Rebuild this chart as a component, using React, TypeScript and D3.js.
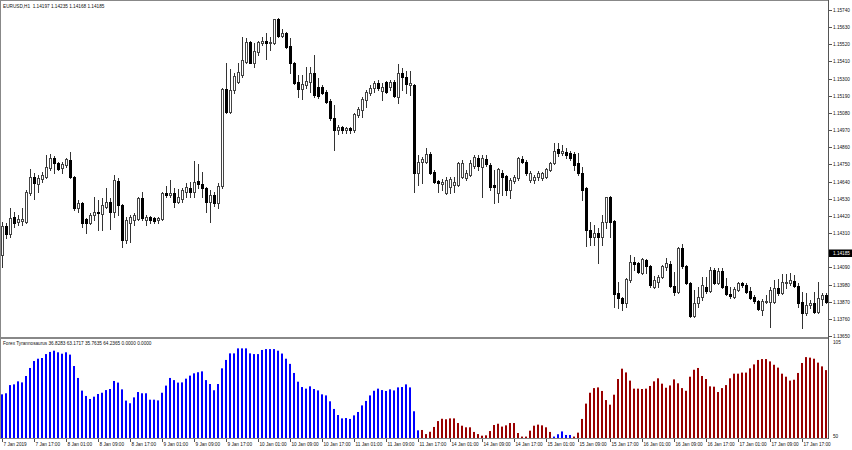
import React from 'react';
import * as d3 from 'd3';

const opens = [
1.14169,1.14355,1.14304,1.14413,1.14381,1.14387,1.14381,1.14567,1.14669,1.14625,
1.14657,1.14669,1.14727,1.14791,1.14759,1.14727,1.14746,1.14778,1.14669,1.14471,
1.14503,1.14400,1.14375,1.14426,1.14445,1.14432,1.14477,1.14509,1.14445,1.14644,
1.14490,1.14266,1.14375,1.14394,1.14400,1.14535,1.14394,1.14413,1.14407,1.14394,
1.14400,1.14567,1.14554,1.14567,1.14509,1.14528,1.14573,1.14599,1.14573,1.14644,
1.14625,1.14599,1.14509,1.14554,1.14503,1.14612,1.15234,1.15086,1.15227,1.15278,
1.15323,1.15407,1.15535,1.15400,1.15471,1.15528,1.15541,1.15528,1.15528,1.15682,
1.15573,1.15592,1.15509,1.15400,1.15278,1.15234,1.15259,1.15278,1.15336,1.15246,
1.15246,1.15214,1.15157,1.15048,1.14971,1.14990,1.14971,1.14984,1.14971,1.15067,
1.15099,1.15163,1.15208,1.15240,1.15272,1.15221,1.15278,1.15246,1.15278,1.15182,
1.15336,1.15310,1.15259,1.15259,1.14695,1.14766,1.14766,1.14817,1.14701,1.14644,
1.14625,1.14567,1.14605,1.14618,1.14618,1.14669,1.14663,1.14682,1.14740,1.14791,
1.14734,1.14785,1.14746,1.14618,1.14567,1.14695,1.14676,1.14586,1.14644,1.14663,
1.14785,1.14766,1.14650,1.14650,1.14669,1.14663,1.14669,1.14714,1.14759,1.14849,
1.14823,1.14830,1.14823,1.14817,1.14759,1.14695,1.14599,1.14330,1.14285,1.14310,
1.14285,1.14381,1.14541,1.14387,1.13926,1.13894,1.13862,1.14009,1.14125,1.14118,
1.14054,1.14137,1.14099,1.13964,1.13996,1.14028,1.14093,1.14112,1.13971,1.13932,
1.14214,1.14099,1.13990,1.13778,1.13862,1.13900,1.13964,1.13939,1.14073,1.13990,
1.14067,1.13971,1.13919,1.13900,1.13945,1.13990,1.13977,1.13939,1.13900,1.13875,
1.13817,1.13868,1.13868,1.13868,1.13958,1.13926,1.13990,1.13990,1.14003,1.13971,
1.13868,1.13798,1.13849,1.13862,1.13804,1.13887,1.13913
];
const highs = [
1.14381,1.14375,1.14471,1.14445,1.14426,1.14471,1.14586,1.14721,1.14695,1.14682,
1.14701,1.14810,1.14817,1.14804,1.14766,1.14766,1.14791,1.14830,1.14675,1.14522,
1.14510,1.14406,1.14439,1.14541,1.14522,1.14535,1.14599,1.14535,1.14682,1.14663,
1.14496,1.14413,1.14426,1.14439,1.14541,1.14573,1.14426,1.14420,1.14413,1.14413,
1.14573,1.14612,1.14650,1.14599,1.14593,1.14599,1.14631,1.14637,1.14772,1.14753,
1.14701,1.14605,1.14586,1.14573,1.14631,1.15240,1.15400,1.15362,1.15336,1.15400,
1.15567,1.15560,1.15541,1.15528,1.15541,1.15567,1.15592,1.15567,1.15682,1.15689,
1.15618,1.15599,1.15560,1.15407,1.15323,1.15323,1.15375,1.15375,1.15451,1.15304,
1.15259,1.15227,1.15169,1.15131,1.15003,1.14996,1.14990,1.14990,1.15080,1.15118,
1.15182,1.15227,1.15259,1.15285,1.15291,1.15272,1.15285,1.15291,1.15291,1.15394,
1.15368,1.15349,1.15349,1.15266,1.14810,1.14798,1.14855,1.14830,1.14714,1.14650,
1.14657,1.14669,1.14669,1.14669,1.14766,1.14778,1.14714,1.14778,1.14810,1.14810,
1.14810,1.14810,1.14759,1.14714,1.14727,1.14714,1.14682,1.14663,1.14682,1.14798,
1.14804,1.14778,1.14708,1.14682,1.14708,1.14701,1.14727,1.14766,1.14887,1.14887,
1.14874,1.14855,1.14836,1.14830,1.14823,1.14734,1.14605,1.14381,1.14362,1.14343,
1.14426,1.14541,1.14548,1.14394,1.13996,1.13900,1.14022,1.14169,1.14157,1.14125,
1.14150,1.14144,1.14105,1.14035,1.14041,1.14105,1.14150,1.14131,1.14060,1.14221,
1.14240,1.14105,1.13996,1.13945,1.13964,1.14028,1.14028,1.14093,1.14086,1.14086,
1.14086,1.14022,1.13964,1.13964,1.13996,1.13996,1.13990,1.13964,1.13913,1.13881,
1.13887,1.13913,1.13964,1.14009,1.14015,1.14048,1.14048,1.14054,1.14041,1.13990,
1.13932,1.13926,1.13881,1.13932,1.13996,1.13926,1.13926
];
const lows = [
1.14093,1.14278,1.14285,1.14349,1.14362,1.14362,1.14375,1.14554,1.14528,1.14573,
1.14637,1.14663,1.14714,1.14695,1.14714,1.14695,1.14734,1.14663,1.14458,1.14445,
1.14349,1.14310,1.14369,1.14394,1.14330,1.14330,1.14471,1.14336,1.14413,1.14426,
1.14221,1.14246,1.14253,1.14362,1.14394,1.14394,1.14362,1.14375,1.14375,1.14375,
1.14394,1.14541,1.14541,1.14477,1.14503,1.14509,1.14541,1.14541,1.14541,1.14599,
1.14541,1.14445,1.14381,1.14484,1.14471,1.14599,1.15080,1.15080,1.15208,1.15272,
1.15310,1.15400,1.15400,1.15375,1.15451,1.15516,1.15426,1.15483,1.15522,1.15567,
1.15567,1.15496,1.15336,1.15266,1.15182,1.15169,1.15240,1.15214,1.15182,1.15176,
1.15202,1.15144,1.15035,1.14843,1.14945,1.14951,1.14951,1.14951,1.14958,1.15054,
1.15054,1.15118,1.15195,1.15214,1.15227,1.15163,1.15208,1.15227,1.15182,1.15144,
1.15227,1.15208,1.15195,1.14573,1.14618,1.14631,1.14759,1.14689,1.14631,1.14573,
1.14586,1.14560,1.14567,1.14573,1.14612,1.14663,1.14650,1.14676,1.14727,1.14714,
1.14541,1.14740,1.14586,1.14503,1.14509,1.14554,1.14554,1.14535,1.14631,1.14650,
1.14759,1.14682,1.14637,1.14631,1.14650,1.14650,1.14663,1.14708,1.14753,1.14804,
1.14810,1.14791,1.14778,1.14714,1.14682,1.14522,1.14227,1.14234,1.14234,1.14118,
1.14234,1.14343,1.14285,1.13836,1.13830,1.13817,1.13836,1.13996,1.14073,1.14054,
1.14048,1.14054,1.13964,1.13958,1.13964,1.14022,1.14073,1.13964,1.13913,1.13926,
1.14086,1.13984,1.13772,1.13772,1.13836,1.13881,1.13926,1.13932,1.13984,1.13984,
1.13958,1.13913,1.13894,1.13894,1.13939,1.13964,1.13926,1.13887,1.13862,1.13817,
1.13785,1.13862,1.13708,1.13862,1.13913,1.13919,1.13958,1.13977,1.13964,1.13836,
1.13701,1.13785,1.13830,1.13798,1.13798,1.13849,1.13862
];
const closes = [
1.14355,1.14304,1.14407,1.14375,1.14400,1.14400,1.14573,1.14669,1.14631,1.14663,
1.14682,1.14734,1.14791,1.14759,1.14721,1.14753,1.14785,1.14669,1.14471,1.14503,
1.14375,1.14375,1.14426,1.14445,1.14439,1.14490,1.14509,1.14445,1.14650,1.14490,
1.14266,1.14394,1.14413,1.14426,1.14535,1.14407,1.14413,1.14394,1.14387,1.14407,
1.14567,1.14554,1.14567,1.14509,1.14541,1.14586,1.14605,1.14573,1.14637,1.14625,
1.14599,1.14509,1.14554,1.14503,1.14612,1.15234,1.15086,1.15227,1.15317,1.15342,
1.15419,1.15535,1.15400,1.15477,1.15535,1.15541,1.15528,1.15535,1.15682,1.15573,
1.15592,1.15503,1.15400,1.15272,1.15234,1.15266,1.15285,1.15336,1.15195,1.15189,
1.15208,1.15150,1.15048,1.14971,1.14990,1.14971,1.14984,1.14971,1.15073,1.15105,
1.15169,1.15214,1.15240,1.15272,1.15240,1.15246,1.15214,1.15278,1.15189,1.15336,
1.15310,1.15266,1.15272,1.14695,1.14766,1.14785,1.14817,1.14695,1.14637,1.14631,
1.14637,1.14650,1.14657,1.14637,1.14759,1.14759,1.14695,1.14759,1.14798,1.14740,
1.14791,1.14753,1.14605,1.14605,1.14721,1.14669,1.14586,1.14650,1.14669,1.14791,
1.14766,1.14695,1.14695,1.14669,1.14695,1.14695,1.14721,1.14759,1.14836,1.14823,
1.14836,1.14810,1.14791,1.14746,1.14695,1.14586,1.14330,1.14285,1.14310,1.14285,
1.14381,1.14541,1.14381,1.13919,1.13894,1.13862,1.14015,1.14125,1.14112,1.14060,
1.14144,1.14099,1.13977,1.14009,1.14028,1.14099,1.14118,1.13971,1.13932,1.14214,
1.14099,1.13990,1.13778,1.13862,1.13900,1.13977,1.13939,1.14073,1.13990,1.14067,
1.13964,1.13919,1.13907,1.13951,1.13990,1.13977,1.13932,1.13894,1.13875,1.13823,
1.13875,1.13875,1.13945,1.13958,1.13926,1.13996,1.13996,1.14009,1.13971,1.13862,
1.13798,1.13849,1.13862,1.13804,1.13894,1.13913,1.13868
];

const strength = [
74.5,75.1,79.7,80.1,81.8,81.2,84.8,89.3,93.2,94.5,
94.9,97.1,98.3,99.0,98.1,97.3,98.1,96.8,90.4,83.7,
76.6,73.6,71.9,73.2,74.7,75.4,76.9,77.5,82.0,81.1,
77.3,71.0,69.5,72.8,75.8,75.1,75.1,71.5,71.5,71.1,
75.4,79.4,83.7,82.5,81.1,81.2,83.3,85.0,86.3,86.9,
87.4,82.5,80.3,76.8,80.3,89.1,93.8,97.5,97.5,100.3,
100.3,100.3,97.5,97.1,97.1,99.4,99.9,99.9,99.9,99.0,
97.4,94.5,91.6,86.5,81.6,78.6,77.7,79.0,77.5,76.7,
74.5,73.9,70.6,66.3,62.9,61.0,61.2,60.7,62.7,64.6,
68.3,70.8,73.9,76.5,77.7,76.9,76.4,77.3,76.7,78.4,
78.6,80.1,78.4,65.0,54.3,54.5,52.2,53.5,56.2,59.5,
60.8,60.5,61.0,61.0,58.4,56.9,56.0,56.0,53.4,52.2,
51.3,51.5,53.9,57.3,58.0,56.4,57.1,58.4,58.4,52.8,
50.8,50.8,54.1,56.9,57.5,57.1,56.0,53.4,50.8,52.1,
53.7,51.7,51.7,50.8,53.0,60.7,69.3,75.4,78.0,78.4,
76.4,71.3,68.7,74.3,83.1,88.9,86.8,82.2,77.7,77.7,
77.5,77.7,79.2,81.8,83.5,80.5,78.2,79.5,82.9,80.7,
78.0,76.5,84.4,88.3,89.3,84.8,83.1,79.0,78.8,75.8,
78.0,79.7,83.5,86.1,86.1,86.7,86.7,89.1,91.3,93.8,
94.3,94.3,93.0,91.1,89.5,86.1,84.4,82.2,82.7,86.5,
92.1,95.4,95.1,94.5,92.3,90.2,88.1
];
// which side dominates: consecutive runs of bars
const sideRuns: Array<[string, number]> = [['bull', 105], ['bear', 33], ['bull', 5], ['bear', 64]];

const priceTicks = [
1.15740,1.15630,1.15520,1.15410,1.15300,1.15190,1.15080,1.14970,1.14860,1.14750,
1.14640,1.14530,1.14420,1.14310,1.14090,1.13980,1.13870,1.13760,1.13650
];
const lastPrice = 1.14185;
const indicatorTicks = [105, 50];
const chartTitle = 'EURUSD,H1  1.14197 1.14235 1.14168 1.14185';
const indicatorTitle = 'Forex Tyrannosaurus 36.8283 63.1717 35.7635 64.2365 0.0000 0.0000';
const timeLabels = [
'7 Jan 2019','7 Jan 17:00','8 Jan 01:00','8 Jan 09:00','8 Jan 17:00','9 Jan 01:00','9 Jan 09:00',
'9 Jan 17:00','10 Jan 01:00','10 Jan 09:00','10 Jan 17:00','11 Jan 01:00','11 Jan 09:00',
'11 Jan 17:00','14 Jan 01:00','14 Jan 09:00','14 Jan 17:00','15 Jan 01:00','15 Jan 09:00',
'15 Jan 17:00','16 Jan 01:00','16 Jan 09:00','16 Jan 17:00','17 Jan 01:00','17 Jan 09:00','17 Jan 17:00'
];
const barsPerTimeLabel = 8;

const FONT = '"Liberation Sans", Arial, sans-serif';
const FS = 4.7;

export default function App() {
  const n = opens.length;
  const plotW = 828;
  const mainH = 337;
  const indTop = 338;
  const indBottom = 438;
  const x = d3.scaleBand<number>().domain(d3.range(n)).range([0, plotW]);
  const y = d3.scaleLinear().domain([1.13644, 1.15804]).range([mainH, 0]);
  const yi = d3.scaleLinear().domain([50, 105]).range([indBottom, 340]);
  const sides: string[] = sideRuns.flatMap(([s, k]) => Array(k).fill(s));
  const cx = (i: number) => Math.round((x(i) as number) + x.bandwidth() / 2);
  const fmt = d3.format('.5f');

  const candles = d3.range(n).map((i) => {
    const p = cx(i);
    const yo = Math.round(y(opens[i]));
    const yc = Math.round(y(closes[i]));
    const yh = Math.round(y(highs[i]));
    const yl = Math.round(y(lows[i]));
    const top = Math.min(yo, yc);
    const bot = Math.max(yo, yc);
    const bull = closes[i] >= opens[i];
    const bh = Math.max(bot - top, 1);
    return (
      <g key={'c' + i}>
        <rect x={p} y={yh} width={1} height={Math.max(yl - yh + 1, 1)} fill="#333" />
        {bull ? (
          <g>
            <rect x={p - 1} y={top} width={3} height={bh + 1} fill="#444" />
            {bh >= 2 && <rect x={p} y={top + 1} width={1} height={bh - 1} fill="#fff" />}
          </g>
        ) : (
          <rect x={p - 1} y={top} width={3} height={bh + 1} fill="#000" />
        )}
      </g>
    );
  });

  const histo = d3.range(n).map((i) => {
    const p = cx(i);
    const yt = yi(strength[i]);
    return (
      <rect key={'h' + i} x={p - 1} y={yt} width={2} height={indBottom - yt}
        fill={sides[i] === 'bull' ? '#0000ff' : '#990000'} />
    );
  });

  return (
    <svg width={852} height={450} style={{ position: 'absolute', left: 0, top: 0, background: '#fff' }}
      fontFamily={FONT}>
      <rect x={0} y={0} width={852} height={450} fill="#fff" />
      {candles}
      {histo}
      {/* frames */}
      <rect x={0.5} y={0.5} width={plotW} height={mainH} fill="none" stroke="#888" />
      <rect x={0.5} y={indTop + 0.5} width={plotW} height={indBottom - indTop} fill="none" stroke="#888" />
      <line x1={plotW + 0.5} y1={0} x2={plotW + 0.5} y2={indBottom + 1} stroke="#555" />
      {/* price axis */}
      {priceTicks.map((v) => {
        const yy = Math.round(y(v)) + 0.5;
        return (
          <g key={'p' + v}>
            <line x1={plotW + 1} x2={plotW + 4} y1={yy} y2={yy} stroke="#555" />
            <text x={833} y={yy} fontSize={FS} dominantBaseline="central" fill="#111">{fmt(v)}</text>
          </g>
        );
      })}
      <rect x={plotW + 1} y={Math.round(y(lastPrice)) - 3.5} width={852 - plotW - 1} height={7.5} fill="#000" />
      <text x={833} y={Math.round(y(lastPrice)) + 0.5} fontSize={FS} dominantBaseline="central" fill="#fff">{fmt(lastPrice)}</text>
      {/* indicator axis */}
      {indicatorTicks.map((v) => (
        <text key={'i' + v} x={833} y={yi(v) + (v === 105 ? 2.5 : -2)} fontSize={FS} dominantBaseline="central" fill="#111">{v}</text>
      ))}
      {/* time axis */}
      {timeLabels.map((t, k) => {
        const p = cx(k * barsPerTimeLabel);
        return (
          <g key={'t' + k}>
            <line x1={p + 0.5} x2={p + 0.5} y1={indBottom + 1} y2={indBottom + 4} stroke="#555" />
            <text x={p + 1.5} y={444} fontSize={FS} dominantBaseline="central" fill="#111">{t}</text>
          </g>
        );
      })}
      {/* titles */}
      <text x={3} y={6} fontSize={FS} dominantBaseline="central" fill="#111" xmlSpace="preserve">{chartTitle}</text>
      <text x={3} y={indTop + 5} fontSize={FS} dominantBaseline="central" fill="#111">{indicatorTitle}</text>
    </svg>
  );
}
